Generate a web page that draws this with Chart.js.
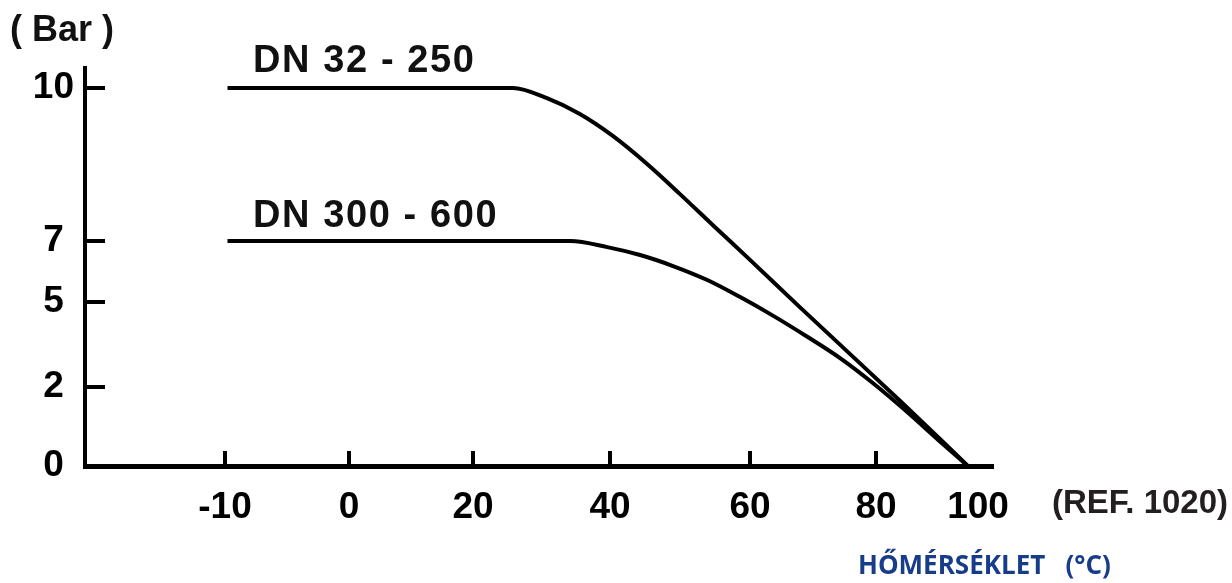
<!DOCTYPE html>
<html><head><meta charset="utf-8">
<script src="https://cdn.jsdelivr.net/npm/chart.js@4.4.1/dist/chart.umd.min.js"></script>
<style>html,body{margin:0;padding:0;background:#fff;}canvas{display:block;}</style>
</head><body>
<canvas id="c" width="1232" height="583"></canvas>
<script>
// ---- data ----
const xTickValues = [-10, 0, 20, 40, 60, 80, 100];
const xTickLabels = ['-10', '0', '20', '40', '60', '80', '100'];
const yTickValues = [0, 2, 5, 7, 10];
const yTickLabels = ['0', '2', '5', '7', '10'];
const xTickMarks = [-10, 0, 20, 40, 60, 80];
const yTickMarks = [2, 5, 7, 10];
const seriesNames = ['DN 32 - 250', 'DN 300 - 600'];
const dn32Temp = [-9.8, 25.8, 30.8, 35.6, 40.4, 45.3, 50.0, 54.7, 60.0, 67.9, 75.9, 84.7, 92.6, 98.0];
const dn32Bar  = [10, 10, 9.80, 9.49, 9.06, 8.51, 7.92, 7.31, 6.38, 4.82, 3.16, 1.65, 0.68, 0];
const dn300Temp = [-9.8, 34.2, 39.6, 44.3, 49.0, 53.9, 58.6, 63.7, 68.9, 74.3, 79.5, 85.9, 92.2, 98.0];
const dn300Bar  = [7, 7, 6.80, 6.54, 6.18, 5.72, 5.16, 4.51, 3.80, 3.02, 2.14, 1.39, 0.66, 0];
const yUnit = '( Bar )';
const xTitle = 'HŐMÉRSÉKLET   (°C)';
const refNote = '(REF. 1020)';

// ---- axis layout (non-uniform schematic axes): fraction of axis length for each tick ----
const xTickFrac = [0.1542, 0.2907, 0.4273, 0.5782, 0.7324, 0.8711, 0.9835];
const xEnds = [-21.3, 102.9];
const yTickFrac = [0, 0.1985, 0.4121, 0.5653, 0.9497];
const yEnds = [0, 10.39];

function buildKnots(vals, fracs, ends) {
  const k = [];
  if (ends[0] < vals[0]) k.push([ends[0], 0]);
  vals.forEach((v, i) => k.push([v, fracs[i]]));
  if (ends[1] > vals[vals.length - 1]) k.push([ends[1], 1]);
  return k;
}
const knotsById = {
  x: buildKnots(xTickValues, xTickFrac, xEnds),
  y: buildKnots(yTickValues, yTickFrac, yEnds)
};
const tickValuesById = { x: xTickValues, y: yTickValues };

class PiecewiseScale extends Chart.LinearScale {
  determineDataLimits() {
    const k = knotsById[this.id];
    this.min = k[0][0];
    this.max = k[k.length - 1][0];
  }
  buildTicks() {
    return tickValuesById[this.id].map(v => ({ value: v }));
  }
  getPixelForValue(value) {
    const k = knotsById[this.id];
    let i = 0;
    while (i < k.length - 2 && value > k[i + 1][0]) i++;
    const [v0, f0] = k[i], [v1, f1] = k[i + 1];
    return this.getPixelForDecimal(f0 + (value - v0) / (v1 - v0) * (f1 - f0));
  }
  getValueForPixel(pixel) {
    const d = this.getDecimalForPixel(pixel);
    const k = knotsById[this.id];
    let i = 0;
    while (i < k.length - 2 && d > k[i + 1][1]) i++;
    const [v0, f0] = k[i], [v1, f1] = k[i + 1];
    return v0 + (d - f0) / (f1 - f0) * (v1 - v0);
  }
}
PiecewiseScale.id = 'piecewise';
PiecewiseScale.defaults = Chart.LinearScale.defaults;
Chart.register(PiecewiseScale);

const FONT = '"Liberation Sans", Arial, Helvetica, sans-serif';

const decor = {
  id: 'decor',
  afterDraw(chart) {
    const { ctx, chartArea: a, scales: { x, y } } = chart;
    ctx.save();
    ctx.fillStyle = '#000';
    xTickMarks.forEach(v => {
      const px = x.getPixelForValue(v);
      ctx.fillRect(Math.round(px) - 2, a.bottom - 15, 4, 15);
    });
    yTickMarks.forEach(v => {
      const py = y.getPixelForValue(v);
      ctx.fillRect(a.left, Math.round(py) - 2, 20, 4);
    });
    ctx.textAlign = 'left';
    ctx.textBaseline = 'middle';
    ctx.font = 'bold 36px ' + FONT;
    ctx.fillStyle = '#111';
    ctx.fillText(yUnit, 10, 31);

    ctx.textBaseline = 'alphabetic';
    ctx.font = 'bold 38px ' + FONT;
    ctx.letterSpacing = '1.6px';
    ctx.fillText(seriesNames[0], x.getPixelForValue(-10) + 28, y.getPixelForValue(10) - 16);
    ctx.fillText(seriesNames[1], x.getPixelForValue(-10) + 28, y.getPixelForValue(7) - 14);
    ctx.letterSpacing = '0px';

    ctx.textBaseline = 'middle';
    ctx.font = 'bold 33px ' + FONT;
    ctx.fillStyle = '#231f20';
    ctx.fillText(refNote, a.right + 59, a.bottom + 38);

    ctx.font = 'bold 26px "Open Sans", "Noto Sans", sans-serif';
    ctx.fillStyle = '#163c8a';
    ctx.fillText(xTitle, a.right - 135, a.bottom + 101);
    ctx.restore();
  }
};

const axisCommon = {
  type: 'piecewise',
  grid: { display: false, drawTicks: false },
  ticks: {
    autoSkip: false,
    maxRotation: 0,
    color: '#000',
    font: { family: FONT, size: 37, weight: 'bold' }
  }
};

new Chart(document.getElementById('c'), {
  type: 'line',
  data: {
    datasets: [
      { label: seriesNames[0], data: dn32Temp.map((t, i) => ({ x: t, y: dn32Bar[i] })) },
      { label: seriesNames[1], data: dn300Temp.map((t, i) => ({ x: t, y: dn300Bar[i] })) }
    ].map(d => Object.assign(d, {
      borderColor: '#000', borderWidth: 4, pointRadius: 0,
      cubicInterpolationMode: 'monotone', fill: false
    }))
  },
  options: {
    responsive: false,
    animation: false,
    devicePixelRatio: 1,
    layout: { padding: { top: 68, right: 239, left: 0, bottom: 0 } },
    plugins: { legend: { display: false }, tooltip: { enabled: false }, title: { display: false } },
    scales: {
      x: Object.assign({}, axisCommon, {
        position: 'bottom',
        border: { display: true, color: '#000', width: 5 },
        ticks: Object.assign({}, axisCommon.ticks, {
          padding: 20,
          callback: (v, i) => xTickLabels[i]
        }),
        afterFit: s => { s.height = 117; }
      }),
      y: Object.assign({}, axisCommon, {
        position: 'left',
        border: { display: true, color: '#000', width: 4 },
        ticks: Object.assign({}, axisCommon.ticks, {
          padding: 11,
          crossAlign: 'center',
          callback: (v, i) => yTickLabels[i]
        }),
        afterFit: s => { s.width = 85; }
      })
    }
  },
  plugins: [decor]
});
</script>
</body></html>
